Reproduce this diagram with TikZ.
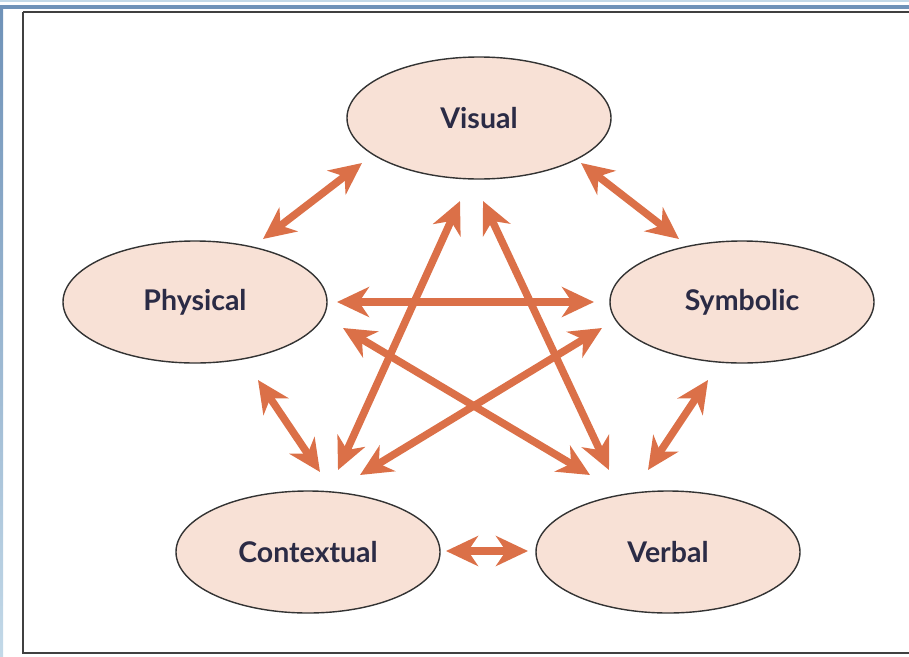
\documentclass[tikz,border=0pt]{standalone}
\usepackage{fontspec}
\setmainfont{Lato}
\usetikzlibrary{arrows.meta,shapes.geometric}

\definecolor{arrorange}{HTML}{DB7048}
\definecolor{nodefill}{HTML}{F8E1D6}
\definecolor{nodeline}{HTML}{333333}
\definecolor{labelink}{HTML}{2B2B45}
\definecolor{frameblue}{HTML}{6F92B8}
\definecolor{framelight}{HTML}{C3D9E8}

\tikzset{
  mode/.style={ellipse, draw=nodeline, line width=1.4pt, fill=nodefill,
    minimum width=264pt, minimum height=122pt, inner sep=0pt,
    font=\fontsize{28.5}{32}\selectfont\bfseries, text=labelink},
  link/.style={draw=arrorange, line width=7.5pt,
    {Stealth[length=32pt,width=30pt,inset=10pt]}-{Stealth[length=32pt,width=30pt,inset=10pt]}},
}

\begin{document}
\begin{tikzpicture}[x=1pt,y=-1pt]
  \useasboundingbox (0,0) rectangle (909,656);

  % page edge strips and frame
  \fill[framelight] (0,0) rectangle (909,1.5);
  \fill[frameblue] (0,5) rectangle (909,9);
  \shade[top color=frameblue, bottom color=framelight] (0,9) rectangle (3,656);
  \draw[line width=2pt, black!75] (23,12) -- (912,12);
  \draw[line width=2pt, black!75] (23,12) -- (23,653) -- (912,653);

  % modes
  \node[mode] (vis) at (479,118) {Visual};
  \node[mode] (phy) at (195,302) {Physical};
  \node[mode] (sym) at (742,302) {Symbolic};
  \node[mode] (con) at (308,552) {Contextual};
  \node[mode] (ver) at (668,552) {Verbal};

  % arrow end points next to the ellipses
  \coordinate (vis-phy) at (362,163);  \coordinate (phy-vis) at (263,239);
  \coordinate (vis-sym) at (581,163);  \coordinate (sym-vis) at (679,239);
  \coordinate (phy-sym) at (337,302);  \coordinate (sym-phy) at (594,302);
  \coordinate (phy-con) at (258,380);  \coordinate (con-phy) at (320,472);
  \coordinate (sym-ver) at (708,380);  \coordinate (ver-sym) at (648,470);
  \coordinate (con-ver) at (446,551);  \coordinate (ver-con) at (528,551);
  \coordinate (vis-con) at (460,201);  \coordinate (con-vis) at (338,470);
  \coordinate (vis-ver) at (483,201);  \coordinate (ver-vis) at (609,470);
  \coordinate (phy-ver) at (343,328);  \coordinate (ver-phy) at (590,475);
  \coordinate (sym-con) at (602,328);  \coordinate (con-sym) at (360,475);

  % connections
  \draw[link] (vis-phy) -- (phy-vis);
  \draw[link] (vis-sym) -- (sym-vis);
  \draw[link] (phy-sym) -- (sym-phy);
  \draw[link] (phy-con) -- (con-phy);
  \draw[link] (sym-ver) -- (ver-sym);
  \draw[link] (con-ver) -- (ver-con);
  \draw[link] (vis-con) -- (con-vis);
  \draw[link] (vis-ver) -- (ver-vis);
  \draw[link] (phy-ver) -- (ver-phy);
  \draw[link] (sym-con) -- (con-sym);
\end{tikzpicture}
\end{document}
